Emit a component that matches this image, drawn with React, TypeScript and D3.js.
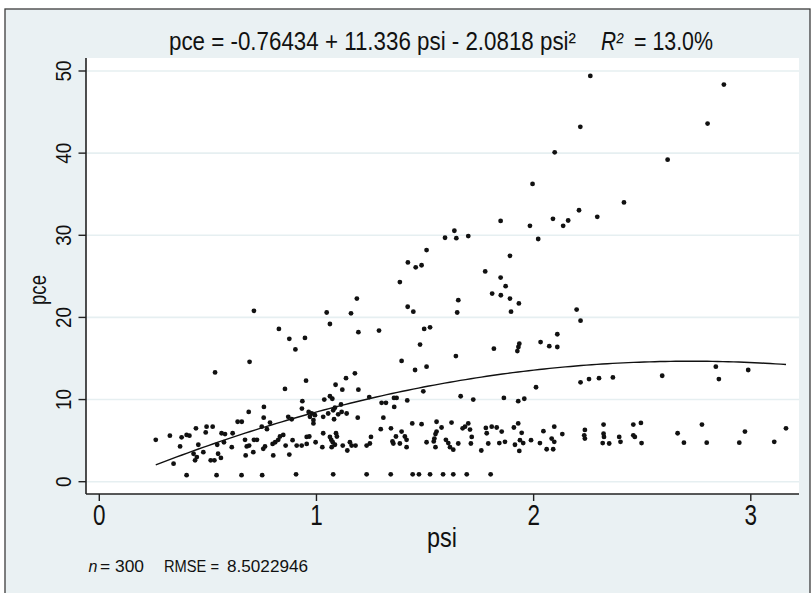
import React from "react";
import * as d3 from "d3";

// ---- data ----
const psi: number[] = [
  0.712, 0.827, 0.692, 0.533, 0.758, 0.688, 0.757, 0.786, 0.748, 0.772,
  0.637, 0.656, 0.494, 0.522, 0.445, 0.49, 0.563, 0.579, 0.614, 0.402,
  0.415, 0.379, 0.325, 0.26, 0.372, 0.456, 0.574, 0.543, 0.61, 0.671,
  0.712, 0.726, 0.679, 0.69, 0.674, 0.709, 0.755, 0.763, 0.801, 0.798,
  0.81, 0.824, 0.434, 0.449, 0.441, 0.479, 0.513, 0.547, 0.56, 0.53,
  0.342, 0.402, 0.54, 0.655, 0.75, 0.906, 1.077, 1.231, 1.342, 1.443,
  1.472, 1.523, 1.583, 1.63, 1.692, 1.802,
  1.384, 1.186, 1.047, 1.159, 1.062, 1.193, 0.875, 0.947, 0.903, 1.288,
  1.42, 1.446, 1.653, 1.648, 1.496, 1.523, 1.477, 1.392, 1.454, 1.507,
  1.642, 1.664, 1.492, 1.418, 1.369, 1.357, 1.358, 1.3, 1.32, 1.308,
  1.243, 1.193, 1.177, 1.136, 1.088, 1.119, 0.952, 0.855, 0.935, 1.036,
  1.062, 1.073, 1.085, 1.113, 1.116, 1.139, 1.1, 1.077, 1.031, 1.054,
  1.081, 1.19, 0.87, 0.886, 0.964, 0.978, 0.97, 0.986, 0.993, 0.933,
  0.986, 0.847, 0.832, 0.875, 0.858, 0.89, 0.909, 0.932, 0.955, 0.955,
  0.967, 0.996, 1.031, 1.027, 1.062, 1.068, 1.075, 1.07, 1.09, 1.094,
  1.085, 1.121, 1.142, 1.154, 1.162, 1.18, 1.231, 1.246, 1.251, 1.296,
  1.343, 1.366, 1.35, 1.354, 1.384, 1.392, 1.407, 1.415, 1.415, 1.441,
  1.484, 1.507, 1.553, 1.576, 1.553, 1.548, 1.543, 1.54, 1.548, 1.596,
  1.607, 1.615, 1.63, 1.622, 1.653, 1.673, 1.699,
  1.871, 1.809, 1.849, 1.891, 1.932, 1.896, 2.198, 2.216, 2.109, 2.032,
  2.072, 2.109, 1.934, 1.93, 1.925, 1.817, 2.011, 2.216, 2.255, 2.301,
  2.365, 1.722, 1.863, 1.929, 1.957, 1.684, 1.707, 1.715, 1.711, 1.759,
  1.78, 1.784, 1.807, 1.791, 1.83, 1.853, 1.842, 1.868, 1.909, 1.929,
  1.945, 1.952, 1.934, 1.914, 1.937, 1.988, 2.029, 2.045, 2.06, 2.09,
  2.095, 2.083, 2.095, 2.132, 2.236, 2.233, 2.236, 2.322, 2.322, 2.324,
  2.318, 2.348, 2.394, 2.4, 2.459, 2.494, 2.459, 2.466, 2.497,
  2.592, 2.839, 2.853, 2.988, 2.663, 2.692, 2.775, 2.797, 2.947, 2.973,
  3.108, 3.162,
  2.261, 2.876, 2.801, 2.215, 2.097, 2.617, 1.995, 2.416, 1.848, 1.983,
  2.089, 2.136, 2.159, 2.209, 2.293, 2.021, 1.592, 1.635, 1.644, 1.699,
  1.891, 1.777, 1.848, 1.507, 1.421, 1.457, 1.484,
];

const pce: number[] = [
  20.8, 18.6, 14.6, 13.3, 9.1, 8.5, 7.8, 7.2, 6.7, 6.4,
  7.3, 7.3, 6.7, 6.7, 6.5, 6.0, 5.9, 5.8, 5.9, 5.7,
  5.6, 5.4, 5.6, 5.1, 4.3, 4.5, 4.8, 4.5, 4.2, 5.1,
  5.1, 5.1, 4.3, 4.4, 3.2, 3.6, 4.0, 4.3, 3.2, 4.6,
  4.8, 5.1, 3.4, 3.0, 2.6, 3.6, 2.6, 3.4, 2.9, 2.6,
  2.2, 0.8, 0.8, 0.8, 0.8, 0.9, 0.9, 0.9, 0.9, 0.9,
  0.9, 0.9, 0.9, 0.9, 0.9, 0.9,
  24.3, 22.3, 20.6, 20.5, 19.2, 18.2, 17.4, 17.5, 16.1, 18.4,
  21.3, 20.7, 22.1, 20.6, 18.6, 18.8, 16.7, 14.7, 13.6, 14.0,
  15.3, 10.4, 11.0, 9.9, 10.2, 10.2, 9.1, 9.6, 9.6, 7.8,
  10.3, 11.2, 13.2, 12.6, 11.8, 11.2, 12.3, 11.3, 9.8, 10.0,
  10.4, 10.1, 9.0, 9.4, 8.5, 8.3, 8.2, 8.7, 7.9, 8.3,
  7.6, 7.8, 7.9, 7.6, 8.5, 8.3, 7.9, 7.5, 8.1, 8.9,
  7.1, 5.7, 5.5, 3.3, 4.4, 5.05, 4.4, 4.4, 4.6, 5.45,
  5.5, 4.8, 5.9, 4.2, 5.45, 5.1, 4.8, 4.2, 5.9, 5.5,
  4.5, 4.4, 3.8, 4.8, 4.4, 4.4, 4.4, 4.65, 5.45, 6.4,
  6.5, 5.5, 4.9, 4.65, 4.65, 6.1, 5.5, 5.1, 4.2, 7.1,
  7.0, 4.8, 7.3, 6.6, 6.1, 5.8, 5.25, 4.9, 4.2, 5.1,
  4.7, 4.2, 3.9, 7.2, 4.65, 6.5, 7.1,
  23.8, 22.9, 22.7, 22.3, 21.7, 20.7, 20.95, 19.6, 17.95, 17.0,
  16.5, 16.4, 16.8, 16.4, 15.9, 16.2, 11.5, 12.1, 12.5, 12.6,
  12.7, 10.0, 10.2, 9.8, 10.1, 6.7, 6.35, 5.45, 4.65, 3.8,
  6.55, 5.9, 6.7, 4.65, 6.6, 6.1, 4.7, 4.85, 6.6, 7.1,
  5.95, 4.7, 3.75, 4.5, 5.05, 5.05, 4.7, 6.15, 3.95, 3.95,
  4.85, 5.25, 6.7, 5.8, 6.3, 5.65, 5.25, 6.95, 5.85, 5.45,
  4.7, 4.65, 5.45, 4.85, 6.95, 7.15, 5.65, 5.45, 4.7,
  12.9, 14.0, 12.5, 13.6, 5.9, 4.75, 6.95, 4.75, 4.75, 6.1,
  4.85, 6.5,
  49.4, 48.35, 43.6, 43.2, 40.1, 39.2, 36.25, 34.0, 31.75, 31.15,
  32.0, 31.15, 31.8, 33.05, 32.25, 29.55, 29.7, 30.55, 29.65, 29.9,
  27.5, 25.6, 24.85, 28.2, 26.7, 26.1, 26.35,
];

const xTicks: number[] = [0, 1, 2, 3];
const yTicks: number[] = [0, 10, 20, 30, 40, 50];
// quadratic fit coefficients: pce = b0 + b1*psi + b2*psi^2
const fitCoef: number[] = [-0.76434, 11.336, -2.0818];
const titleMain = "pce = -0.76434 + 11.336 psi - 2.0818 psi\u00B2";
const titleR = "R\u00B2";
const titleR2 = "= 13.0%";
const footN = "= 300";
const footRmseLabel = "RMSE =";
const footRmse = "8.5022946";

const W = 811;
const H = 593;
const BG = "#eaf1f3";
const GRID = "#e6eff1";
const INK = "#111";
const FONT = "'Liberation Sans', Arial, sans-serif";

export default function App() {
  const x = d3.scaleLinear().domain([0, 3]).range([99.3, 750.8]);
  const y = d3.scaleLinear().domain([0, 50]).range([481.7, 71]);

  const plotL = 86, plotR = 799, plotT = 58, plotB = 494;

  const [xmin, xmax] = d3.extent(psi) as [number, number];
  const fitX = d3.range(0, 121).map((i) => xmin + ((xmax - xmin) * i) / 120);
  const fitFn = (v: number) => fitCoef[0] + fitCoef[1] * v + fitCoef[2] * v * v;
  const line = d3
    .line<number>()
    .x((d) => x(d))
    .y((d) => y(fitFn(d)))
    .curve(d3.curveLinear);

  const pts = psi.map((p, i) => ({ p, c: pce[i] }));

  return (
    <svg
      width={W}
      height={H}
      style={{ position: "absolute", left: 0, top: 0, display: "block" }}
      fontFamily={FONT}
    >
      <rect x={0} y={0} width={W} height={H} fill="#fff" />
      <rect x={5} y={9} width={805} height={H} fill={BG} stroke="#3c3c3c" strokeWidth={1.3} />
      <rect x={plotL} y={plotT} width={plotR - plotL} height={plotB - plotT} fill="#fff" />

      {/* gridlines */}
      {yTicks.map((t) => (
        <line key={"g" + t} x1={plotL} x2={plotR} y1={y(t)} y2={y(t)} stroke={GRID} strokeWidth={1.6} />
      ))}

      {/* axes */}
      <line x1={plotL} x2={plotL} y1={plotT} y2={plotB} stroke="#222" strokeWidth={1.6} />
      <line x1={plotL} x2={plotR} y1={plotB} y2={plotB} stroke="#222" strokeWidth={1.6} />

      {yTicks.map((t) => (
        <g key={"yt" + t}>
          <line x1={78.5} x2={plotL} y1={y(t)} y2={y(t)} stroke="#222" strokeWidth={1.4} />
          <text
            transform={`translate(71,${y(t)}) rotate(-90)`}
            textAnchor="middle"
            fontSize={22}
            fill={INK}
            textLength={String(t).length * 10.5}
            lengthAdjust="spacingAndGlyphs"
          >
            {t}
          </text>
        </g>
      ))}

      {xTicks.map((t) => (
        <g key={"xt" + t}>
          <line x1={x(t)} x2={x(t)} y1={plotB} y2={plotB + 7} stroke="#222" strokeWidth={1.4} />
          <text
            x={x(t)}
            y={525}
            textAnchor="middle"
            fontSize={29}
            fill={INK}
            textLength={12.5}
            lengthAdjust="spacingAndGlyphs"
          >
            {t}
          </text>
        </g>
      ))}

      {/* markers */}
      {pts.map((d, i) => (
        <circle key={i} cx={x(d.p)} cy={y(d.c)} r={2.4} fill={INK} />
      ))}

      {/* fitted curve */}
      <path d={line(fitX) || ""} fill="none" stroke="#111" strokeWidth={1.4} />

      {/* title */}
      <text
        transform="translate(169,50) scale(1,1.14)"
        fontSize={22}
        fill={INK}
        textLength={407}
        lengthAdjust="spacingAndGlyphs"
      >
        {titleMain}
      </text>
      <text x={601} y={50} fontSize={25} fontStyle="italic" fill={INK} textLength={22} lengthAdjust="spacingAndGlyphs">
        {titleR}
      </text>
      <text x={634} y={50} fontSize={25} fill={INK} textLength={79} lengthAdjust="spacingAndGlyphs">
        {titleR2}
      </text>

      {/* axis titles */}
      <text x={442} y={547} textAnchor="middle" fontSize={27} fill={INK} textLength={30} lengthAdjust="spacingAndGlyphs">
        psi
      </text>
      <text
        transform={`translate(46,290) rotate(-90)`}
        textAnchor="middle"
        fontSize={23}
        fill={INK}
        textLength={30}
        lengthAdjust="spacingAndGlyphs"
      >
        pce
      </text>

      {/* footnote */}
      <text y={572} fontSize={16} fill={INK}>
        <tspan x={88.5} fontStyle="italic">n</tspan>
        <tspan x={100} textLength={44} lengthAdjust="spacingAndGlyphs">{footN}</tspan>
        <tspan x={164} textLength={55} lengthAdjust="spacingAndGlyphs">{footRmseLabel}</tspan>
        <tspan x={227} textLength={81} lengthAdjust="spacingAndGlyphs">{footRmse}</tspan>
      </text>
    </svg>
  );
}
